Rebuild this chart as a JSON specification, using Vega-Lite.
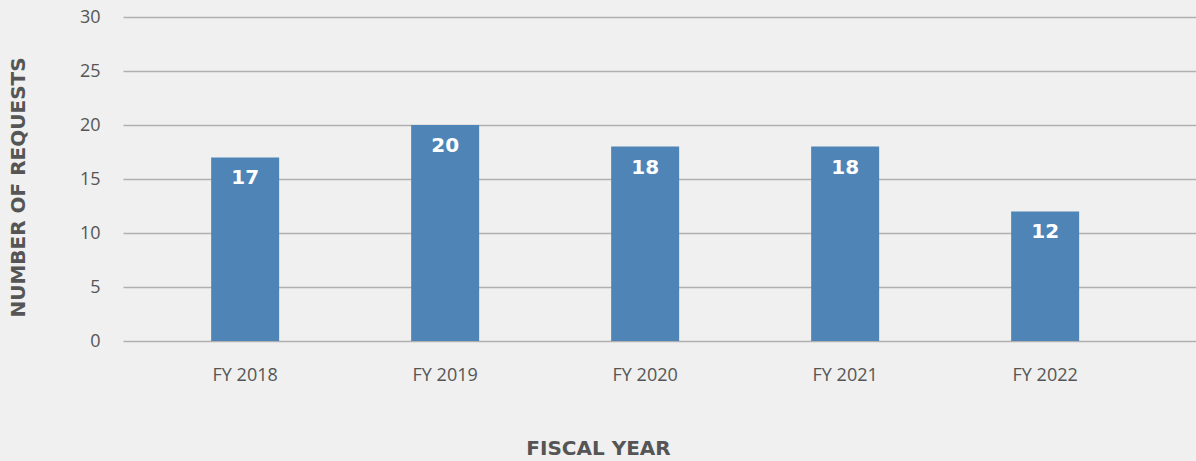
{
  "$schema": "https://vega.github.io/schema/vega-lite/v6.json",
  "autosize": {"type": "none"},
  "padding": {"left": 123, "top": 17, "right": 0, "bottom": 120},
  "width": 1073,
  "height": 324,
  "background": "#eff0ef",
  "config": {
    "view": {"stroke": null},
    "axis": {"labelFont": "Open Sans", "labelColor": "#555555", "titleColor": "#555555", "titleFont": "DejaVu Sans", "titleFontWeight": "bold"}
  },
  "data": {"values": [
    {"year": "FY 2018", "requests": 17},
    {"year": "FY 2019", "requests": 20},
    {"year": "FY 2020", "requests": 18},
    {"year": "FY 2021", "requests": 18},
    {"year": "FY 2022", "requests": 12}
  ]},
  "encoding": {
    "x": {
      "field": "year", "type": "nominal", "sort": null,
      "scale": {"paddingInner": 0.66, "paddingOuter": 0.5125, "align": 0.43},
      "axis": {
        "title": "FISCAL YEAR", "labelAngle": 0, "ticks": false, "domain": false,
        "labelFontSize": 18, "labelBaseline": "middle", "labelPadding": 34,
        "titleFontSize": 20, "titleX": 475, "titleY": 107, "titleBaseline": "middle", "titleAnchor": null
      }
    },
    "y": {
      "field": "requests", "type": "quantitative",
      "scale": {"domain": [0, 30]},
      "axis": {
        "title": "NUMBER OF REQUESTS", "values": [0, 5, 10, 15, 20, 25, 30],
        "ticks": false, "domain": false, "grid": true, "gridColor": "#b0b0b0", "gridWidth": 1.5,
        "labelFontSize": 18, "labelPadding": 23,
        "titleFontSize": 20, "titleAngle": 270, "titleX": -105, "titleY": 170, "titleBaseline": "middle", "titleAlign": "center"
      }
    }
  },
  "layer": [
    {"mark": {"type": "bar", "color": "#4f84b6"}},
    {
      "mark": {"type": "text", "color": "white", "font": "DejaVu Sans", "fontWeight": "bold", "fontSize": 20, "baseline": "middle", "dy": 21},
      "encoding": {"text": {"field": "requests", "type": "quantitative"}}
    }
  ]
}
